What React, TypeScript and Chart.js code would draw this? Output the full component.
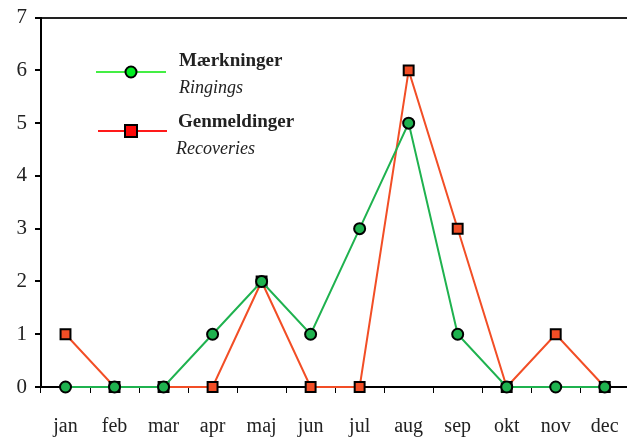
import React, { useEffect, useRef } from "react";
import { Chart, registerables } from "chart.js";

Chart.register(...registerables);

const categories = ["jan", "feb", "mar", "apr", "maj", "jun", "jul", "aug", "sep", "okt", "nov", "dec"];
const ringings = [0, 0, 0, 1, 2, 1, 3, 5, 1, 0, 0, 0];
const recoveries = [1, 0, 0, 0, 2, 0, 0, 6, 3, 0, 1, 0];
const legendTitles = ["Mærkninger", "Genmeldinger"];
const legendSubtitles = ["Ringings", "Recoveries"];

const FONT = "'Liberation Serif', 'DejaVu Serif', serif";
const GREEN = "#1fb24f";
const RED = "#f24e26";
const SHIFT_Y = 3;

const legendPlugin = {
  id: "customLegend",
  afterDraw(chart: any) {
    const ctx = chart.ctx;
    ctx.save();
    ctx.translate(0, SHIFT_Y);
    ctx.strokeStyle = "#44ee44";
    ctx.lineWidth = 2;
    ctx.beginPath();
    ctx.moveTo(96, 72);
    ctx.lineTo(166, 72);
    ctx.stroke();
    ctx.fillStyle = "#00ee22";
    ctx.strokeStyle = "#000";
    ctx.lineWidth = 2;
    ctx.beginPath();
    ctx.arc(131, 72, 5.5, 0, Math.PI * 2);
    ctx.fill();
    ctx.stroke();
    ctx.strokeStyle = "#ff1a1a";
    ctx.lineWidth = 2;
    ctx.beginPath();
    ctx.moveTo(98, 131);
    ctx.lineTo(167, 131);
    ctx.stroke();
    ctx.fillStyle = "#ff0a0a";
    ctx.strokeStyle = "#000";
    ctx.lineWidth = 2;
    ctx.fillRect(125, 125, 12, 12);
    ctx.strokeRect(125, 125, 12, 12);
    ctx.fillStyle = "#222";
    ctx.textAlign = "left";
    ctx.textBaseline = "alphabetic";
    ctx.font = "bold 19px " + FONT;
    ctx.fillText(legendTitles[0], 179, 66);
    ctx.fillText(legendTitles[1], 178, 127);
    ctx.font = "italic 18px " + FONT;
    ctx.fillText(legendSubtitles[0], 179, 93);
    ctx.fillText(legendSubtitles[1], 176, 154);
    ctx.restore();
  },
};

export default function App() {
  const ref = useRef<HTMLCanvasElement>(null);
  useEffect(() => {
    if (!ref.current) return;
    const chart = new Chart(ref.current, {
      type: "line",
      data: {
        labels: categories,
        datasets: [
          {
            label: legendTitles[0],
            data: ringings,
            borderColor: GREEN,
            borderWidth: 2,
            backgroundColor: GREEN,
            pointStyle: "circle",
            pointRadius: 5.5,
            pointBorderWidth: 2,
            pointBorderColor: "#000",
            pointBackgroundColor: GREEN,
            tension: 0,
            clip: false as any,
          },
          {
            label: legendTitles[1],
            data: recoveries,
            borderColor: RED,
            borderWidth: 2,
            backgroundColor: RED,
            pointStyle: "rect",
            pointRadius: 7,
            pointBorderWidth: 2,
            pointBorderColor: "#000",
            pointBackgroundColor: RED,
            tension: 0,
            clip: false as any,
          },
        ],
      },
      options: {
        animation: false,
        responsive: false,
        maintainAspectRatio: false,
        layout: { padding: 0 },
        plugins: { legend: { display: false }, tooltip: { enabled: false } },
        scales: {
          x: {
            type: "category",
            offset: true,
            grid: {
              offset: true,
              drawOnChartArea: false,
              drawTicks: true,
              tickLength: 6,
              tickColor: "#000",
              color: "#000",
            },
            border: { display: true, color: "#000", width: 2 },
            ticks: {
              color: "#222",
              font: { family: FONT, size: 20 },
              padding: 22,
              maxRotation: 0,
              autoSkip: false,
            },
            afterFit(scale: any) {
              scale.height = 52;
            },
          },
          y: {
            min: 0,
            max: 7,
            grid: {
              color: (c: any) => (c.tick && c.tick.value === 7 ? "#222" : "rgba(0,0,0,0)"),
              lineWidth: 2,
              tickColor: "#000",
              tickLength: 6,
              drawTicks: true,
            },
            border: { display: true, color: "#000", width: 2 },
            ticks: {
              stepSize: 1,
              color: "#222",
              font: { family: FONT, size: 21 },
              padding: 8,
            },
            afterFit(scale: any) {
              scale.width = 41;
            },
          },
        },
      },
      plugins: [legendPlugin],
    });
    return () => chart.destroy();
  }, []);
  return (
    <div style={{ position: "absolute", left: 0, top: 0, width: 627, height: 439, background: "#fff", overflow: "hidden" }}>
      <canvas
        ref={ref}
        width={641}
        height={442}
        style={{ position: "absolute", left: 0, top: -SHIFT_Y, width: 641, height: 442 }}
      />
    </div>
  );
}
